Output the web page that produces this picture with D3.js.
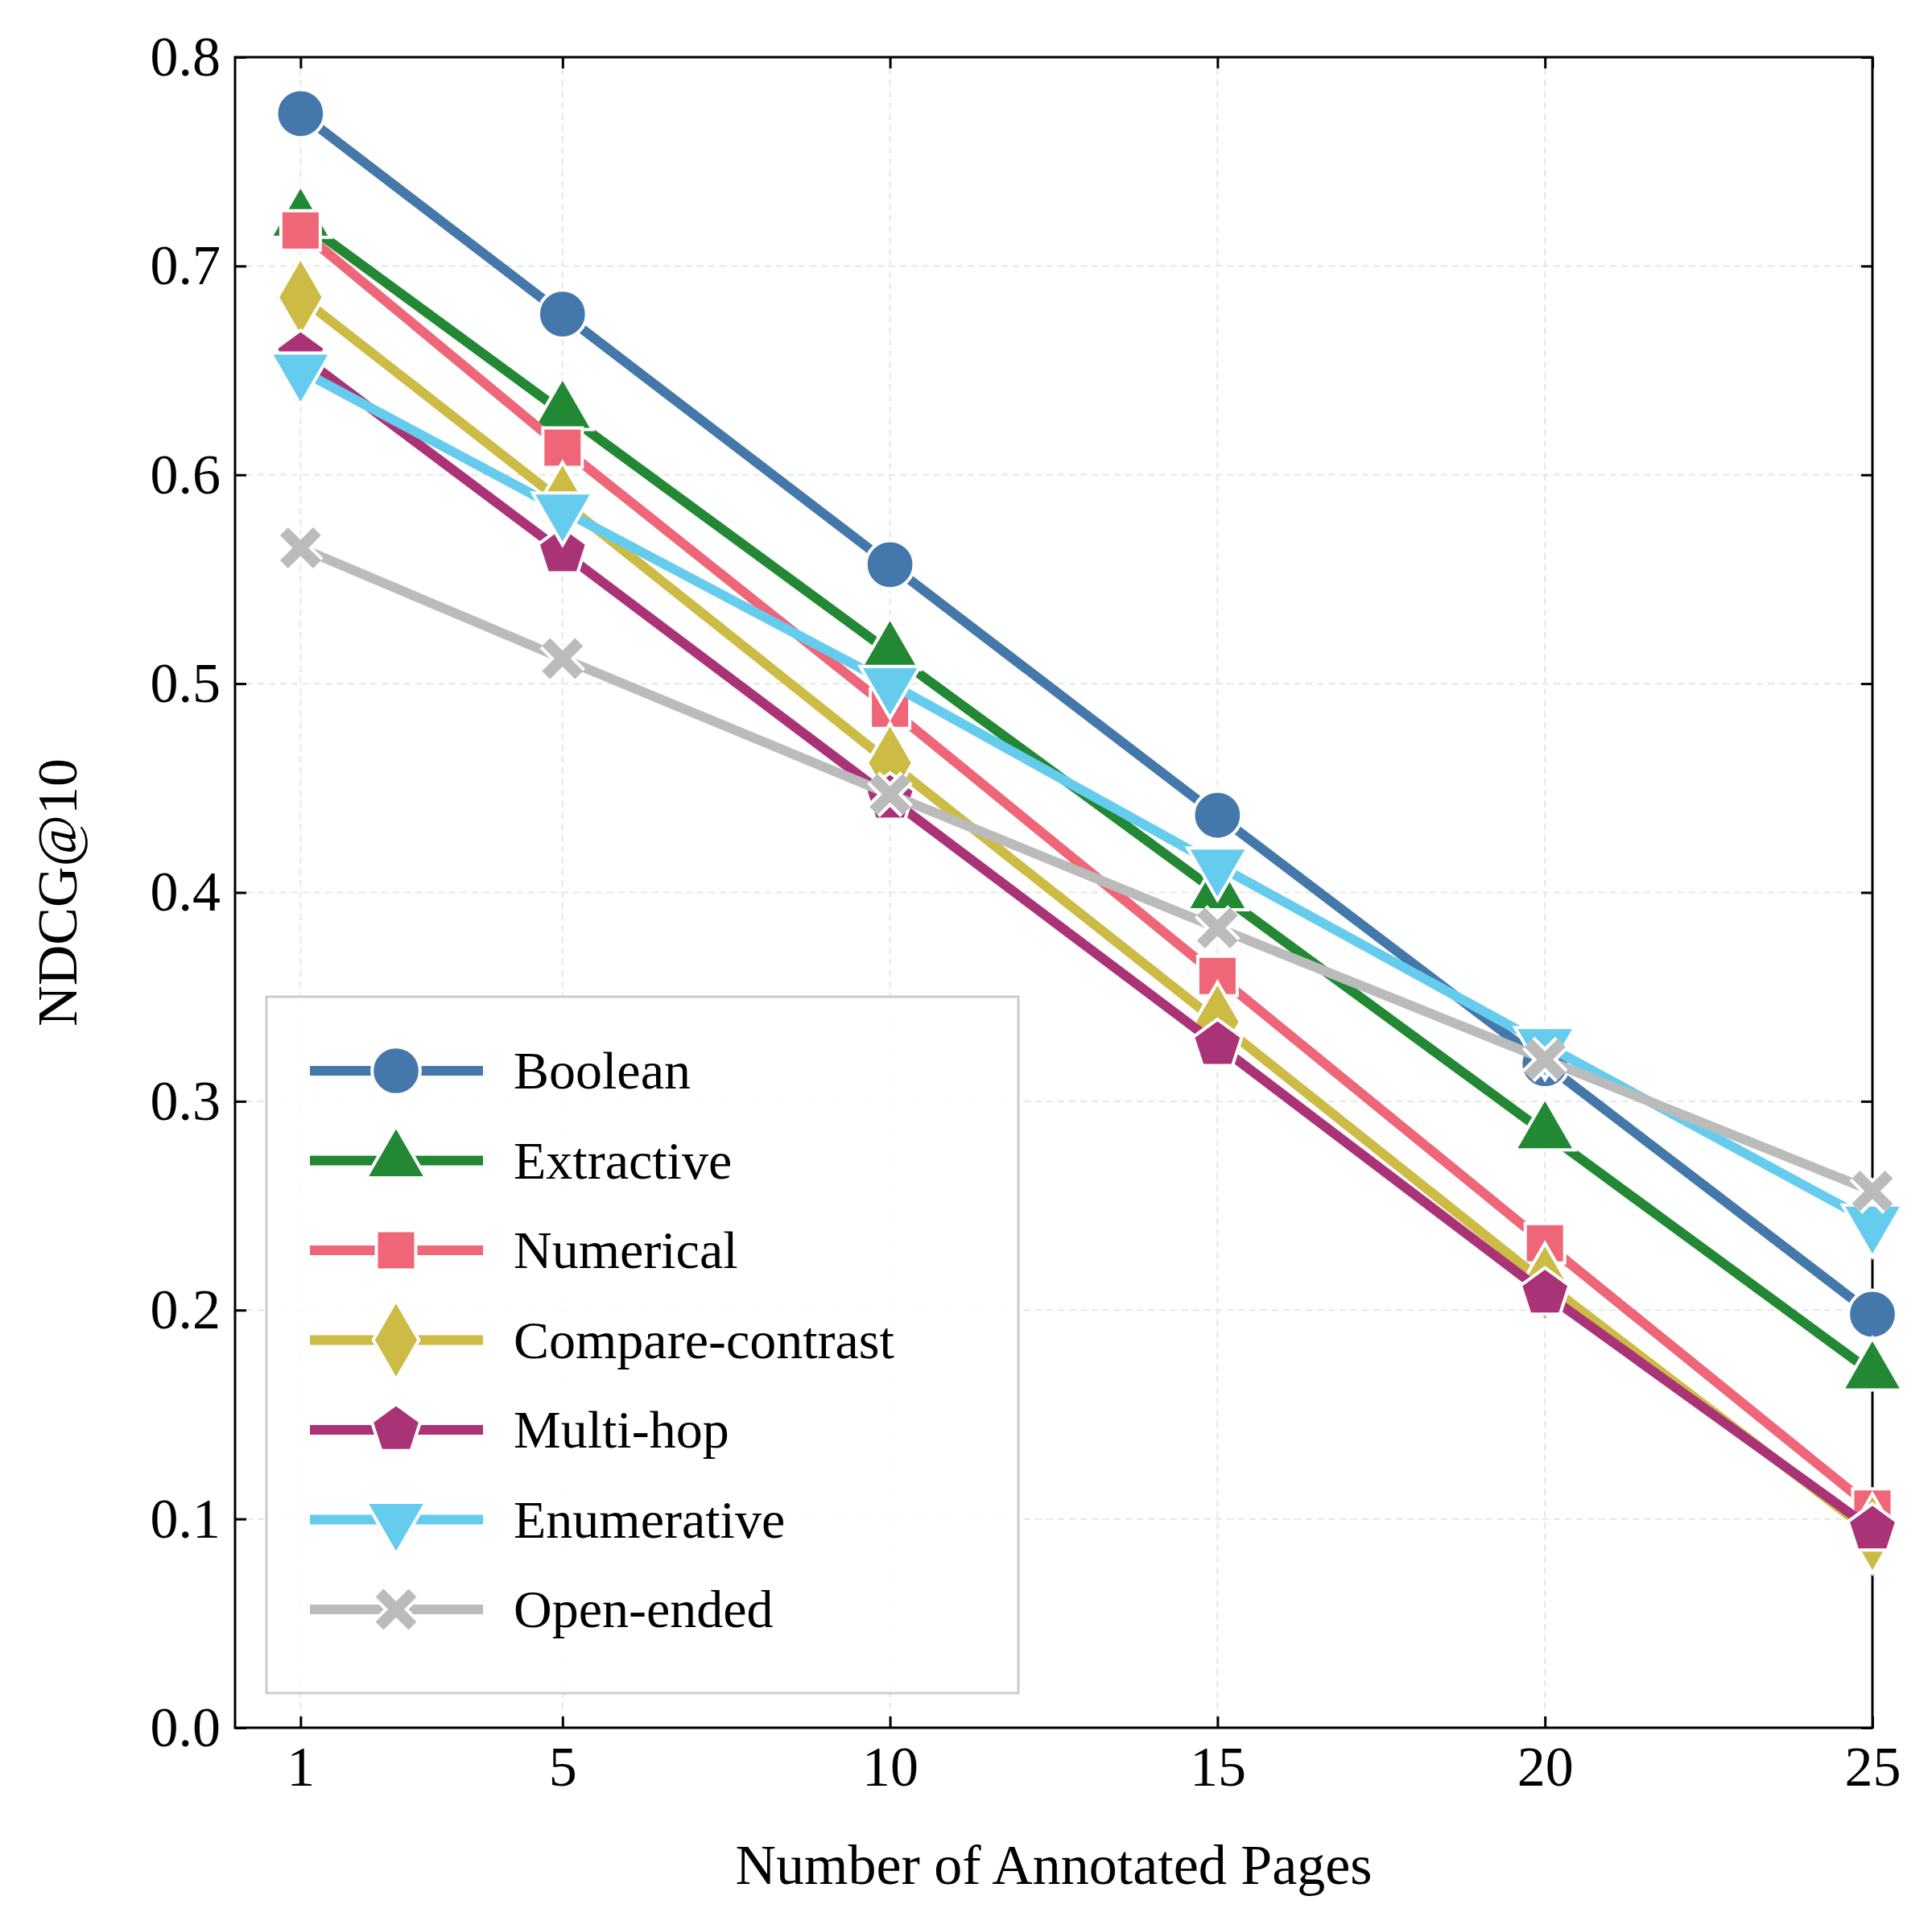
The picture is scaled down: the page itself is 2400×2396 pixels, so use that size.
<!DOCTYPE html>
<html><head><meta charset="utf-8">
<script src="https://cdn.jsdelivr.net/npm/d3@7"></script>
<style>body{margin:0;background:#fff}svg{font-family:"Liberation Serif","DejaVu Serif",serif}</style>
</head><body><svg id="c" width="2400" height="2396"></svg>
<script>
const xTicks=[1,5,10,15,20,25];
const yTicks=[0,0.1,0.2,0.3,0.4,0.5,0.6,0.7,0.8];
const seriesNames=["Boolean","Extractive","Numerical","Compare-contrast","Multi-hop","Enumerative","Open-ended"];
const colors=["#4477AA","#228833","#EE6677","#CCBB44","#AA3377","#66CCEE","#BBBBBB"];
const symbols=["circle","triangle","square","diamond","pentagon","triangleDown","cross"];
const booleanVals=[0.773,0.677,0.557,0.437,0.318,0.198];
const extractiveVals=[0.722,0.630,0.515,0.400,0.285,0.170];
const numericalVals=[0.717,0.613,0.488,0.360,0.232,0.105];
const compareVals=[0.685,0.587,0.462,0.338,0.213,0.093];
const multihopVals=[0.657,0.563,0.445,0.327,0.208,0.095];
const enumerativeVals=[0.650,0.583,0.500,0.413,0.327,0.242];
const openVals=[0.565,0.512,0.447,0.383,0.320,0.257];
const allVals=[booleanVals,extractiveVals,numericalVals,compareVals,multihopVals,enumerativeVals,openVals];

const L=292,R=2326,T=71,B=2146;
const svg=d3.select("#c");
const x=d3.scaleLinear().domain([0,25]).range([L,R]);
const y=d3.scaleLinear().domain([0,0.8]).range([B,T]);
// grid
const g=svg.append("g");
yTicks.forEach(t=>g.append("line").attr("x1",L).attr("x2",R).attr("y1",y(t)).attr("y2",y(t)).attr("stroke","#e6e6e6").attr("stroke-width",2).attr("stroke-dasharray","8,6"));
xTicks.forEach(t=>g.append("line").attr("y1",T).attr("y2",B).attr("x1",x(t)).attr("x2",x(t)).attr("stroke","#e6e6e6").attr("stroke-width",2).attr("stroke-dasharray","8,6"));
// axes
const fs=70;
const ax=svg.append("g").attr("transform",`translate(0,${B})`).call(d3.axisBottom(x).tickValues(xTicks).tickSize(-14).tickPadding(22));
const ay=svg.append("g").attr("transform",`translate(${L},0)`).call(d3.axisLeft(y).tickValues(yTicks).tickSize(-14).tickPadding(18).tickFormat(d3.format(".1f")));
svg.append("g").attr("transform",`translate(0,${T})`).call(d3.axisTop(x).tickValues(xTicks).tickSize(-14).tickFormat(""));
svg.append("g").attr("transform",`translate(${R},0)`).call(d3.axisRight(y).tickValues(yTicks).tickSize(-14).tickFormat(""));
svg.selectAll(".domain").remove();
svg.selectAll(".tick line").attr("stroke","#000").attr("stroke-width",3);
svg.selectAll(".tick text").attr("font-size",fs).attr("fill","#000").attr("font-family","Liberation Serif");
svg.append("rect").attr("x",L).attr("y",T).attr("width",R-L).attr("height",B-T).attr("fill","none").attr("stroke","#000").attr("stroke-width",3);
svg.append("text").attr("x",(L+R)/2).attr("y",2340).attr("text-anchor","middle").attr("font-size",70).text("Number of Annotated Pages");
svg.append("text").attr("transform",`translate(95,${(T+B)/2}) rotate(-90)`).attr("text-anchor","middle").attr("font-size",70).text("NDCG@10");

function sym(i,size){
  const s=symbols[i];
  if(s==="pentagon"){const r=Math.sqrt(size/2.38);let p="";for(let k=0;k<5;k++){const a=-Math.PI/2+k*2*Math.PI/5;p+=(k?"L":"M")+(r*Math.cos(a)).toFixed(2)+","+(r*Math.sin(a)).toFixed(2);}return p+"Z";}
  if(s==="triangleDown"){return d3.symbol(d3.symbolTriangle,size)();}
  const m={circle:d3.symbolCircle,triangle:d3.symbolTriangle,square:d3.symbolSquare,diamond:d3.symbolDiamond,cross:d3.symbolX};
  return d3.symbol(m[s],size)();
}
function drawMarker(sel,i,cx,cy,size){
  const rot=symbols[i]==="triangleDown"?180:0;
  if(symbols[i]==="cross"){
    sel.append("path").attr("d",sym(i,size)).attr("transform",`translate(${cx},${cy})`).attr("stroke","#fff").attr("stroke-width",22).attr("fill","none");
    sel.append("path").attr("d",sym(i,size)).attr("transform",`translate(${cx},${cy})`).attr("stroke",colors[i]).attr("stroke-width",14).attr("fill","none");
    return;
  }
  sel.append("path").attr("d",sym(i,size)).attr("transform",`translate(${cx},${cy}) rotate(${rot})`).attr("fill",colors[i]).attr("stroke","#fff").attr("stroke-width",4);
}
const sizes=[2800,2400,2400,2800,2400,2400,1100];
const line=d3.line().x((d,j)=>x(xTicks[j])).y(d=>y(d));
const pg=svg.append("g");
allVals.forEach((v,i)=>{
  pg.append("path").attr("d",line(v)).attr("fill","none").attr("stroke",colors[i]).attr("stroke-width",12);
  v.forEach((d,j)=>drawMarker(pg,i,x(xTicks[j]),y(d),sizes[i]));
});
// legend
const lg=svg.append("g");
lg.append("rect").attr("x",331).attr("y",1238).attr("width",934).attr("height",865).attr("fill","#fff").attr("fill-opacity",0.85).attr("stroke","#ccc").attr("stroke-width",3);
seriesNames.forEach((n,i)=>{
  const yy=1330+i*111.5;
  lg.append("line").attr("x1",385).attr("x2",600).attr("y1",yy).attr("y2",yy).attr("stroke",colors[i]).attr("stroke-width",12);
  drawMarker(lg,i,492,yy,sizes[i]);
  lg.append("text").attr("x",638).attr("y",yy+22).attr("font-size",66).text(n);
});
</script></body></html>
